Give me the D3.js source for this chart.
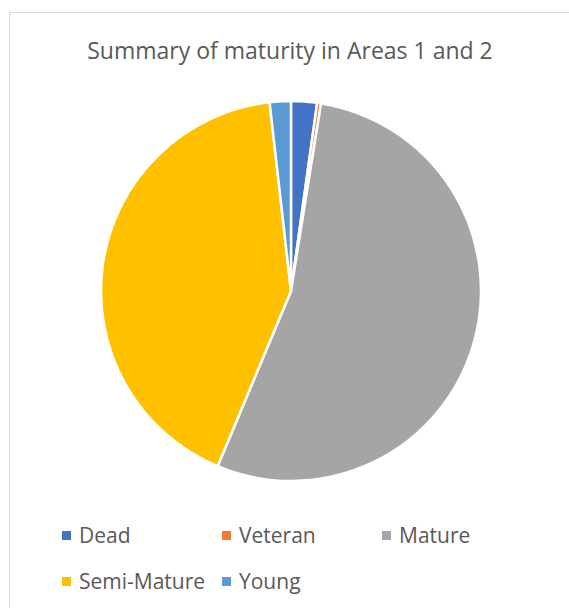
<!DOCTYPE html>
<html><head><meta charset="utf-8">
<script src="https://cdn.jsdelivr.net/npm/d3@7"></script>
<style>body{margin:0;background:#fff}svg{display:block}</style>
</head><body>
<svg id="c" width="569" height="608"></svg>
<script>
const categories = ["Dead", "Veteran", "Mature", "Semi-Mature", "Young"];
const values = [2.2, 0.33, 53.8, 41.9, 1.8];
const colors = ["#4472C4", "#ED7D31", "#A5A5A5", "#FFC000", "#5B9BD5"];
const title = "Summary of maturity in Areas 1 and 2";

const svg = d3.select("#c");
svg.append("rect").attr("x", 9.5).attr("y", 12.5).attr("width", 600).attr("height", 640)
  .attr("fill", "#fff").attr("stroke", "#d9d9d9").attr("stroke-width", 1);

svg.append("text").attr("x", 290).attr("y", 59).attr("text-anchor", "middle")
  .attr("font-family", "Open Sans").attr("font-size", 23).attr("fill", "#595959").text(title);

const cx = 291, cy = 291, r = 190;
const pie = d3.pie().sort(null).value(d => d)(values);
const arc = d3.arc().innerRadius(0).outerRadius(r);
const color = d3.scaleOrdinal().domain(categories).range(colors);
svg.append("g").attr("transform", `translate(${cx},${cy})`)
  .selectAll("path").data(pie).join("path")
  .attr("d", arc).attr("fill", (d, i) => color(categories[i]))
  .attr("stroke", "#fff").attr("stroke-width", 2.5).attr("stroke-linejoin", "round");

const lx = [62, 222, 382, 62, 222], ly = [535.5, 535.5, 535.5, 581.5, 581.5];
const lg = svg.append("g").selectAll("g").data(categories).join("g")
  .attr("transform", (d, i) => `translate(${lx[i]},${ly[i]})`);
lg.append("rect").attr("x", 0).attr("y", -4.5).attr("width", 9).attr("height", 9).attr("fill", d => color(d));
lg.append("text").attr("x", 17).attr("y", 0).attr("dy", "0.35em")
  .attr("font-family", "Open Sans").attr("font-size", 21).attr("fill", "#595959").text(d => d);
</script>
</body></html>
